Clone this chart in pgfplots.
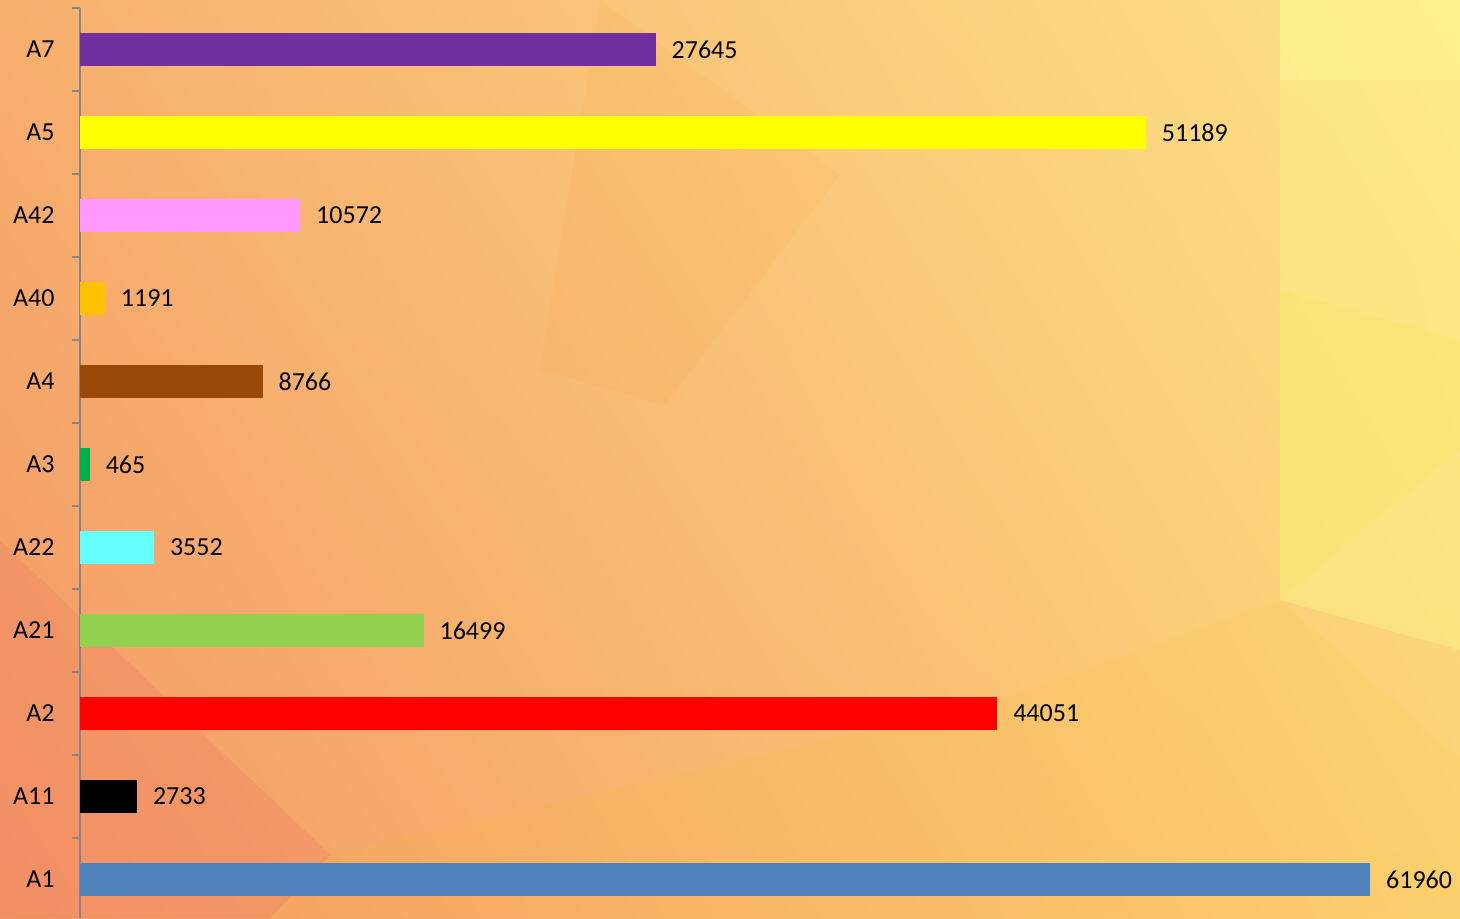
\documentclass[border=0pt]{standalone}
\usepackage{pgfplots}
\pgfplotsset{compat=1.18}
\usetikzlibrary{shadings}
\usepackage{fontspec}
\setmainfont{Carlito}
\definecolor{bgUL}{RGB}{247,175,110}
\definecolor{bgUR}{RGB}{253,228,135}
\definecolor{bgLL}{RGB}{244,152,102}
\definecolor{bgLR}{RGB}{252,208,118}
\definecolor{bandY}{RGB}{253,240,135}
\definecolor{bandY2}{RGB}{249,230,100}
\definecolor{topY}{RGB}{255,246,150}
\definecolor{salmon}{RGB}{239,128,98}
\definecolor{cA7}{RGB}{112,48,160}
\definecolor{cA5}{RGB}{255,255,0}
\definecolor{cA42}{RGB}{255,153,255}
\definecolor{cA40}{RGB}{255,192,0}
\definecolor{cA4}{RGB}{152,72,7}
\definecolor{cA3}{RGB}{0,176,80}
\definecolor{cA22}{RGB}{102,255,255}
\definecolor{cA21}{RGB}{146,208,80}
\definecolor{cA2}{RGB}{255,0,0}
\definecolor{cA11}{RGB}{0,0,0}
\definecolor{cA1}{RGB}{79,129,189}
\definecolor{axgray}{RGB}{134,134,134}
\begin{document}
\begin{tikzpicture}
\begin{scope}[shift={(-24pt,275.4pt)},x=0.3pt,y=-0.3pt]
\shade[upper left=bgUL,upper right=bgUR,lower left=bgLL,lower right=bgLR] (0,0) rectangle (1460,918);
\fill[bandY,opacity=0.55] (1280,0) -- (1460,0) -- (1460,650) -- (1280,600) -- cycle;
\fill[topY,opacity=0.6] (1280,0) -- (1460,0) -- (1460,80) -- (1280,80) -- cycle;
\fill[bandY2,opacity=0.35] (1280,290) -- (1460,340) -- (1460,450) -- (1280,600) -- cycle;
\fill[orange,opacity=0.05] (540,370) -- (665,405) -- (840,175) -- (600,0) -- cycle;
\fill[salmon,opacity=0.35] (0,540) -- (330,855) -- (270,918) -- (0,918) -- cycle;
\fill[yellow!60!orange,opacity=0.08] (330,855) -- (1000,700) -- (1280,600) -- (1460,760) -- (1460,918) -- (270,918) -- cycle;
\end{scope}
\begin{axis}[
  scale only axis,
  width=414pt, height=273pt,
  xmin=0, xmax=66282,
  ymin=-0.4639, ymax=10.5,
  xbar, bar width=9.9pt, bar shift=0pt,
  axis x line=none,
  axis y line*=left,
  axis line style={axgray, line width=0.6pt},
  ytick={0,...,10},
  yticklabels={A1,A11,A2,A21,A22,A3,A4,A40,A42,A5,A7},
  major tick length=0pt,
  minor ytick={-0.5,0.5,...,10.5},
  minor tick length=2.4pt,
  tick align=outside,
  minor tick style={axgray, line width=0.6pt},
  yticklabel style={font=\fontsize{7.8}{9}\selectfont, xshift=-4.1pt},
  nodes near coords,
  every node near coord/.append style={font=\fontsize{7.8}{9}\selectfont, xshift=1.3pt, black},
  /pgf/number format/1000 sep={},
  /pgf/number format/assume math mode=true,
  clip=false,
]
\addplot[fill=cA1, draw=none] coordinates {(61960,0)};
\addplot[fill=cA11, draw=none] coordinates {(2733,1)};
\addplot[fill=cA2, draw=none] coordinates {(44051,2)};
\addplot[fill=cA21, draw=none] coordinates {(16499,3)};
\addplot[fill=cA22, draw=none] coordinates {(3552,4)};
\addplot[fill=cA3, draw=none] coordinates {(465,5)};
\addplot[fill=cA4, draw=none] coordinates {(8766,6)};
\addplot[fill=cA40, draw=none] coordinates {(1191,7)};
\addplot[fill=cA42, draw=none] coordinates {(10572,8)};
\addplot[fill=cA5, draw=none] coordinates {(51189,9)};
\addplot[fill=cA7, draw=none] coordinates {(27645,10)};
\end{axis}
\pgfresetboundingbox
\path[use as bounding box] (-24pt,0) rectangle (414pt,275.4pt);
\end{tikzpicture}
\end{document}
